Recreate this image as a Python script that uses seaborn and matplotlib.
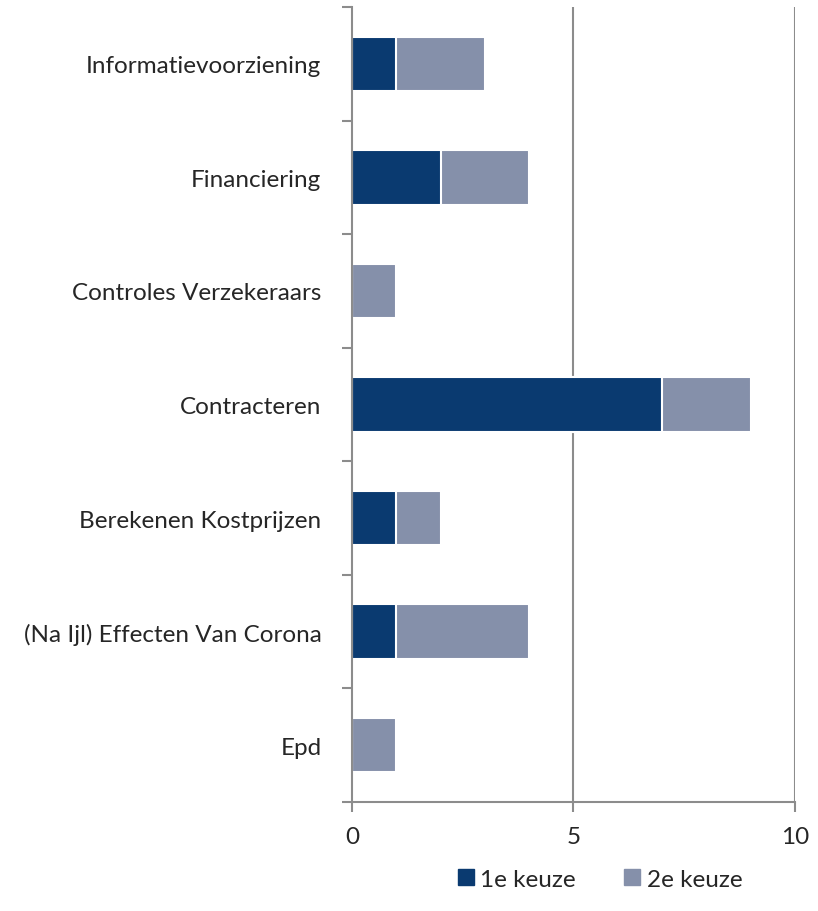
import matplotlib
matplotlib.use("Agg")
import matplotlib.pyplot as plt
from matplotlib.lines import Line2D
import seaborn as sns
import pandas as pd
import numpy as np

categories = [
    "Informatievoorziening",
    "Financiering",
    "Controles Verzekeraars",
    "Contracteren",
    "Berekenen Kostprijzen",
    "(Na Ijl) Effecten Van Corona",
    "Epd",
]
first_choice = [1, 2, 0, 7, 1, 1, 0]
second_choice = [2, 2, 1, 2, 1, 3, 1]
series_names = ["1e keuze", "2e keuze"]
x_ticks = [0, 5, 10]

dark = "#0a3a70"
light = "#8590aa"
axis_grey = "#8c8c8c"

sns.set_theme(style="white")
plt.rcParams["font.family"] = ["Lato", "DejaVu Sans"]

df = pd.DataFrame({
    "category": categories,
    "first": first_choice,
    "total": np.array(first_choice) + np.array(second_choice),
})

fig = plt.figure(figsize=(8.18, 9.12), dpi=100)
ax = fig.add_axes([0.4303, 0.1195, 0.5416, 0.8717])

# stacked bars: total drawn first, first choice on top of it
sns.barplot(data=df, y="category", x="total", color=light, orient="h",
            width=0.48, edgecolor="white", linewidth=1.5, saturation=1, ax=ax)
sns.barplot(data=df, y="category", x="first", color=dark, orient="h",
            width=0.48, edgecolor="white", linewidth=1.5, saturation=1, ax=ax)

n = len(categories)
ax.set_xlim(0, 10)
ax.set_ylim(n - 0.5, -0.5)
ax.set_xlabel("")
ax.set_ylabel("")

# vertical gridlines
for v in x_ticks[1:]:
    ax.axvline(v, color=axis_grey, lw=1.5, zorder=0)

ax.set_xticks(x_ticks)
ax.set_xticklabels([str(t) for t in x_ticks], fontsize=17.5)

# tick marks on category boundaries, labels at category centres
ax.set_yticks(np.arange(-0.5, n, 1.0))
ax.set_yticklabels([])
ax.set_yticks(np.arange(n), minor=True)
ax.set_yticklabels(categories, minor=True, fontsize=17.5)
ax.tick_params(axis="y", which="minor", length=0, pad=22)
ax.tick_params(axis="y", which="major", length=7, width=1.5, color=axis_grey,
               direction="out", left=True)
ax.tick_params(axis="x", length=7, width=1.5, color=axis_grey,
               direction="out", bottom=True, pad=10)

for side in ["top", "right"]:
    ax.spines[side].set_visible(False)
for side in ["left", "bottom"]:
    ax.spines[side].set_color(axis_grey)
    ax.spines[side].set_linewidth(1.5)

handles = [
    Line2D([], [], marker="s", linestyle="", markersize=11,
           markerfacecolor=dark, markeredgecolor=dark, label=series_names[0]),
    Line2D([], [], marker="s", linestyle="", markersize=11,
           markerfacecolor=light, markeredgecolor=light, label=series_names[1]),
]
fig.legend(handles=handles, loc="center", bbox_to_anchor=(0.731, 0.035),
           ncol=2, frameon=False, fontsize=17.5, handletextpad=0.1,
           columnspacing=1.8, handlelength=1.0)

fig.savefig("out.png", dpi=100)
